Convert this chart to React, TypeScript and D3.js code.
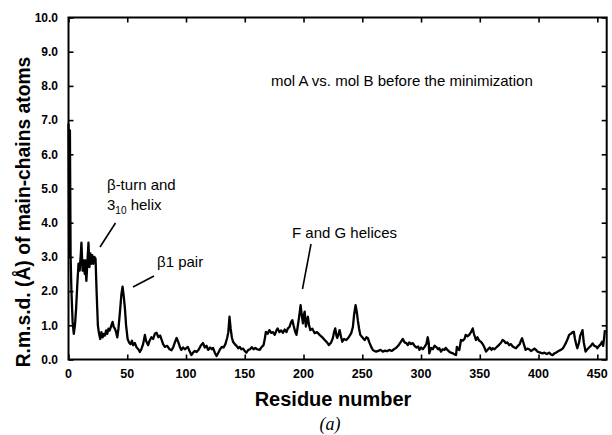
import { useEffect, useRef } from 'react';
import * as d3 from 'd3';

const WIDTH = 612;
const HEIGHT = 435;

// residue numbers and r.m.s.d. values
const residues = [
  0, 0.6, 1.2, 1.8, 2.5, 3.5, 4.5, 5.5, 6.5, 7.5, 8.5, 9.5, 10.5, 11, 12, 13, 13.8, 14.5, 15.2, 16, 17, 17.8, 18.6, 19.4, 20.2, 21, 22, 23, 24, 25,
  26, 27, 28, 29, 30, 31, 32, 33, 34, 35, 36, 37.5, 38.5, 39.5, 40.5, 41.5, 42.5, 43.8, 45, 46, 47, 48, 49, 50.3, 51.5, 52.8, 54, 55, 56.5, 58,
  59.5, 60.7, 62, 63.5, 65, 66, 67.8, 69, 70.5, 72, 73.5, 75, 76.5, 78, 79, 80.5, 82, 84, 86, 87.7, 89, 90.5, 92, 93.5, 95, 96, 97.5, 99, 101.5, 103,
  104.6, 106, 107.5, 109, 111, 112.5, 114.5, 116, 117.5, 118.8, 120.5, 122, 123, 124.5, 126, 127.5, 129, 130.5, 132, 133.5, 135, 136, 137, 138, 139, 140, 141.5, 143, 144.5, 145.7,
  147, 148.5, 150, 151.4, 153, 154.5, 156, 157.5, 159, 160.5, 162.7, 164, 166, 167, 168, 169.5, 171, 172.5, 174, 175.5, 177, 178, 179.5, 181, 182.5, 184, 185.5, 186.7, 188, 189.5,
  190.5, 191.5, 193, 194, 195, 196.5, 197.5, 198.5, 199.5, 200.3, 201, 202, 203, 203.7, 204.7, 205.8, 207.5, 209.5, 211.5, 213.7, 216, 218, 220, 221.6, 223.5, 225, 226, 227, 228, 228.7,
  229.8, 230.7, 232, 233, 234.5, 236.4, 238.5, 240.6, 242, 243, 244.3, 245.3, 246.2, 247.3, 248.3, 250, 252, 253.5, 254.7, 256, 257.6, 259, 260.5, 261.8, 263.5, 265.5, 267.5, 269.5, 271, 273,
  275, 277, 278.8, 280.5, 282.5, 284.5, 286, 287.5, 288.7, 290, 291.5, 293, 294.5, 296, 297.5, 298.6, 300, 301.5, 303, 304.5, 305.7, 306.5, 307, 308.6, 310, 311.5, 312.8, 314.5, 315.6, 317,
  318.5, 320, 321, 322.5, 324, 325.5, 327, 328.5, 329.8, 330.5, 331.5, 332.6, 334, 335.5, 337, 338, 339.5, 341, 342.5, 344, 345, 346.8, 348, 349.5, 351, 352.5, 354, 355.3, 357, 358.5,
  360, 361, 362.5, 364, 365.5, 367, 368.2, 369.4, 370.5, 372, 373.5, 375, 376.5, 378, 379.5, 380.8, 382.5, 384, 385, 386, 387.5, 389, 390.5, 392, 393.5, 395, 396.5, 397.8, 399.5, 401.5,
  403.4, 405, 407, 409, 410.5, 412, 413.5, 415, 417, 419, 420.5, 422, 423.5, 425, 426, 427.5, 429, 430, 431, 432, 433, 434.5, 435.5, 437.4, 438.5, 440, 441.5, 443, 444.5, 446,
  447.5, 449, 450, 451.5, 453, 454, 455, 456, 456.5,
];

const rmsd = [
  6.9, 3.0, 6.7, 3.0, 2.0, 1.1, 0.75, 1.0, 1.5, 2.2, 2.8, 2.6, 3.1, 3.42, 2.6, 2.9, 2.5, 2.9, 2.3, 2.8, 3.42, 2.7, 3.1, 2.8, 3.05, 2.8, 3.0, 2.95, 1.9, 1.0,
  0.75, 0.6, 0.8, 0.65, 0.75, 0.7, 0.85, 0.75, 0.9, 0.85, 0.95, 1.1, 0.95, 0.9, 0.8, 0.65, 0.9, 1.4, 1.9, 2.13, 1.85, 1.5, 1.0, 0.6, 0.5, 0.45, 0.55, 0.42, 0.48, 0.35,
  0.3, 0.22, 0.3, 0.45, 0.72, 0.55, 0.42, 0.55, 0.65, 0.6, 0.75, 0.78, 0.65, 0.7, 0.6, 0.45, 0.37, 0.4, 0.3, 0.27, 0.35, 0.5, 0.63, 0.5, 0.35, 0.28, 0.35, 0.3, 0.37, 0.25,
  0.13, 0.2, 0.25, 0.22, 0.3, 0.4, 0.48, 0.35, 0.4, 0.28, 0.35, 0.3, 0.34, 0.2, 0.1, 0.2, 0.3, 0.37, 0.35, 0.45, 0.63, 0.8, 1.25, 0.9, 0.65, 0.52, 0.45, 0.4, 0.33, 0.37,
  0.3, 0.32, 0.25, 0.2, 0.28, 0.3, 0.36, 0.3, 0.34, 0.3, 0.28, 0.35, 0.42, 0.6, 0.81, 0.75, 0.86, 0.78, 0.8, 0.72, 0.85, 0.91, 0.8, 0.85, 0.78, 0.88, 0.8, 0.91, 0.95, 1.1,
  1.15, 1.0, 0.8, 0.72, 0.95, 1.3, 1.59, 1.3, 1.06, 1.3, 1.4, 0.96, 1.15, 1.25, 1.0, 0.86, 0.9, 0.77, 0.8, 0.72, 0.65, 0.57, 0.5, 0.42, 0.5, 0.63, 0.8, 0.91, 0.7, 0.63,
  0.75, 0.86, 0.65, 0.52, 0.6, 0.57, 0.65, 0.77, 0.95, 1.3, 1.59, 1.4, 1.15, 0.9, 0.72, 0.65, 0.57, 0.65, 0.63, 0.5, 0.37, 0.28, 0.25, 0.23, 0.25, 0.28, 0.23, 0.26, 0.24, 0.28,
  0.25, 0.3, 0.34, 0.4, 0.5, 0.6, 0.5, 0.48, 0.42, 0.5, 0.45, 0.48, 0.4, 0.35, 0.38, 0.28, 0.35, 0.3, 0.37, 0.45, 0.65, 0.5, 0.18, 0.34, 0.3, 0.4, 0.37, 0.3, 0.33, 0.23,
  0.3, 0.28, 0.34, 0.28, 0.23, 0.2, 0.18, 0.15, 0.13, 0.37, 0.3, 0.28, 0.57, 0.55, 0.6, 0.72, 0.68, 0.72, 0.8, 0.91, 0.75, 0.57, 0.65, 0.55, 0.52, 0.45, 0.35, 0.23, 0.3, 0.35,
  0.28, 0.33, 0.3, 0.35, 0.4, 0.45, 0.5, 0.57, 0.55, 0.48, 0.5, 0.42, 0.45, 0.38, 0.35, 0.33, 0.4, 0.45, 0.55, 0.62, 0.45, 0.28, 0.32, 0.3, 0.25, 0.28, 0.32, 0.28, 0.22, 0.2,
  0.18, 0.2, 0.16, 0.2, 0.15, 0.13, 0.18, 0.2, 0.25, 0.28, 0.32, 0.4, 0.5, 0.62, 0.72, 0.75, 0.8, 0.81, 0.6, 0.45, 0.33, 0.5, 0.7, 0.86, 0.5, 0.23, 0.3, 0.35, 0.4, 0.47,
  0.4, 0.38, 0.33, 0.4, 0.45, 0.52, 0.4, 0.7, 0.86,
];

const xTicks = [0, 50, 100, 150, 200, 250, 300, 350, 400, 450];
const yTicks = [0, 1, 2, 3, 4, 5, 6, 7, 8, 9, 10];

const SANS = '"Liberation Sans", Arial, Helvetica, sans-serif';

export default function App() {
  const svgRef = useRef<SVGSVGElement>(null);

  useEffect(() => {
    if (!svgRef.current) return;
    const svg = d3.select(svgRef.current);
    svg.selectAll('*').remove();

    const left = 68.5;
    const right = 606.7;
    const top = 17.5;
    const bottom = 359.5;

    const x = d3.scaleLinear().domain([0, 458]).range([left, right]);
    const y = d3.scaleLinear().domain([0, 10]).range([bottom, top]);

    const data = residues.map((r, i) => ({ r, v: rmsd[i] }));

    // curve
    const line = d3.line<{ r: number; v: number }>()
      .x(d => x(d.r))
      .y(d => y(d.v));

    svg.append('path')
      .datum(data)
      .attr('fill', 'none')
      .attr('stroke', '#000')
      .attr('stroke-width', 2.3)
      .attr('stroke-linejoin', 'round')
      .attr('d', line);

    // frame
    svg.append('rect')
      .attr('x', left)
      .attr('y', top)
      .attr('width', right - left)
      .attr('height', bottom - top)
      .attr('fill', 'none')
      .attr('stroke', '#000')
      .attr('stroke-width', 2);

    const tickLen = 5;

    // inward ticks, bottom and top
    svg.append('g')
      .attr('transform', `translate(0,${bottom})`)
      .call(d3.axisBottom(x).tickValues(xTicks).tickSize(-tickLen).tickFormat(() => ''))
      .call(g => g.select('.domain').remove());
    svg.append('g')
      .attr('transform', `translate(0,${top})`)
      .call(d3.axisTop(x).tickValues(xTicks).tickSize(-tickLen).tickFormat(() => ''))
      .call(g => g.select('.domain').remove());
    // inward ticks, left and right
    svg.append('g')
      .attr('transform', `translate(${left},0)`)
      .call(d3.axisLeft(y).tickValues(yTicks).tickSize(-tickLen).tickFormat(() => ''))
      .call(g => g.select('.domain').remove());
    svg.append('g')
      .attr('transform', `translate(${right},0)`)
      .call(d3.axisRight(y).tickValues(yTicks).tickSize(-tickLen).tickFormat(() => ''))
      .call(g => g.select('.domain').remove());
    svg.selectAll('.tick line').attr('stroke', '#000').attr('stroke-width', 1.6);

    // tick labels
    svg.append('g')
      .selectAll('text')
      .data(xTicks)
      .join('text')
      .attr('x', d => x(d))
      .attr('y', 378)
      .attr('text-anchor', 'middle')
      .style('font-family', SANS)
      .style('font-weight', 'bold')
      .style('font-size', '12.5px')
      .text(d => d);

    svg.append('g')
      .selectAll('text')
      .data(yTicks)
      .join('text')
      .attr('x', 58)
      .attr('y', d => y(d))
      .attr('dy', '0.36em')
      .attr('text-anchor', 'end')
      .style('font-family', SANS)
      .style('font-weight', 'bold')
      .style('font-size', '12px')
      .text(d => d.toFixed(1));

    // axis titles
    svg.append('text')
      .attr('x', 333)
      .attr('y', 406)
      .attr('text-anchor', 'middle')
      .style('font-family', SANS)
      .style('font-weight', 'bold')
      .style('font-size', '20px')
      .text('Residue number');

    svg.append('text')
      .attr('transform', 'translate(30,212) rotate(-90)')
      .attr('text-anchor', 'middle')
      .style('font-family', SANS)
      .style('font-weight', 'bold')
      .style('font-size', '19.3px')
      .text('R.m.s.d. (Å) of main-chains atoms');

    svg.append('text')
      .attr('x', 330)
      .attr('y', 430)
      .attr('text-anchor', 'middle')
      .style('font-family', '"Liberation Serif", "Times New Roman", serif')
      .style('font-style', 'italic')
      .style('font-size', '18px')
      .text('(a)');

    // annotations
    const note = (tx: number, ty: number, s: string) =>
      svg.append('text')
        .attr('x', tx)
        .attr('y', ty)
        .style('font-family', SANS)
        .style('font-size', '15px')
        .text(s);

    note(271, 86, 'mol A vs. mol B before the minimization');
    note(107, 190, 'β-turn and');
    const helix = note(107, 210, '3');
    helix.append('tspan').attr('dy', 4).style('font-size', '10px').text('10');
    helix.append('tspan').attr('dy', -4).text(' helix');
    note(157, 267, 'β1 pair');
    note(292, 238, 'F and G helices');

    const leaders = [
      [115.5, 223, 100, 247],
      [154, 276, 133, 287],
      [311, 244, 302.5, 289],
    ];
    svg.append('g')
      .selectAll('line')
      .data(leaders)
      .join('line')
      .attr('x1', d => d[0])
      .attr('y1', d => d[1])
      .attr('x2', d => d[2])
      .attr('y2', d => d[3])
      .attr('stroke', '#000')
      .attr('stroke-width', 1.6);
  }, []);

  return (
    <svg
      ref={svgRef}
      width={WIDTH}
      height={HEIGHT}
      style={{ position: 'absolute', left: 0, top: 0, background: '#fff' }}
    />
  );
}
